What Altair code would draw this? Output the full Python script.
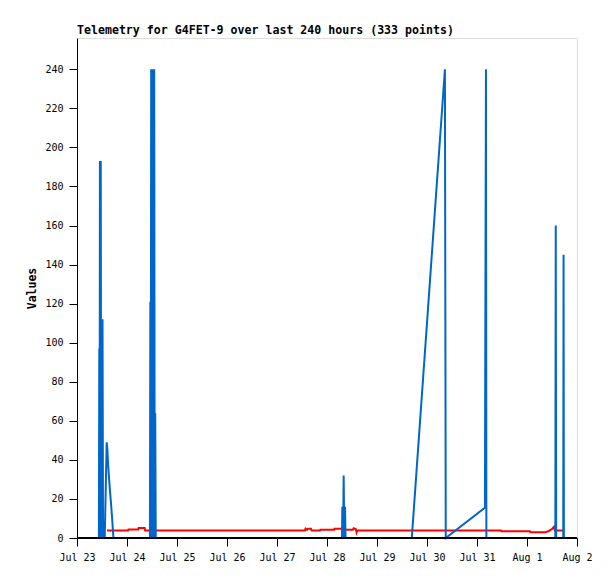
import altair as alt
import pandas as pd

# hours since Jul 23 00:00 (UTC) and values
blue_hours = [10.5, 10.7, 10.85, 11.0, 11.2, 11.4, 11.6, 11.8, 12.0, 12.25, 12.5, 12.7, 12.9, 13.1, 13.3,
              14.25, 14.6, 14.9, 15.35, 15.85, 16.3, 16.8, 17.3, 17.5,
              35.0, 35.2, 35.4, 35.6, 35.85, 36.1, 36.35, 36.6, 36.8, 37.05, 37.3, 37.55, 37.8,
              127.2, 127.35, 127.7, 128.0, 128.3, 128.65, 128.9,
              160.7, 176.6, 177.0, 195.8, 196.3, 196.5,
              229.6, 229.8, 230.0, 233.4, 233.55, 233.7]
blue_vals = [0, 97, 0, 193, 0, 193, 0, 112, 0, 112, 0, 8, 0, 8, 0,
             49, 45, 38, 31, 24, 18, 11, 3, 0,
             0, 121, 0, 240, 0, 240, 0, 240, 0, 240, 0, 64, 0,
             0, 16, 0, 32, 0, 16, 0,
             0, 240, 0, 15.5, 240, 0,
             0, 160, 0, 0, 145, 0]

red_hours = [14.4, 24.5, 24.7, 29.4, 29.6, 32.5, 32.7,
             109.4, 109.7, 110.4, 110.9, 112.3, 112.6, 116.6, 116.8, 123.4, 123.6, 127.8, 128.0,
             132.4, 132.8, 133.8, 134.2, 134.5,
             203.5, 203.7, 217.4, 217.6, 224.6, 226.5, 228.0, 229.0, 229.3, 233.3]
red_vals = [3.9, 3.9, 4.4, 4.4, 5.1, 5.1, 3.9,
            3.9, 4.8, 4.2, 4.8, 4.8, 3.9, 3.9, 4.2, 4.2, 4.7, 4.7, 4.2,
            4.2, 5.0, 4.6, 2.9, 3.9,
            3.9, 3.4, 3.4, 2.9, 2.9, 3.6, 4.6, 5.8, 3.9, 3.9]

start = pd.Timestamp("2023-07-23T00:00:00Z")
end = pd.Timestamp("2023-08-02T00:00:00Z")

def to_iso(hours):
    return [(start + pd.Timedelta(hours=h)).strftime("%Y-%m-%dT%H:%M:%SZ") for h in hours]

blue = pd.DataFrame({"t": to_iso(blue_hours), "v": blue_vals})
red = pd.DataFrame({"t": to_iso(red_hours), "v": red_vals})
zero = pd.DataFrame({"t": [start.strftime("%Y-%m-%dT%H:%M:%SZ"), end.strftime("%Y-%m-%dT%H:%M:%SZ")], "v": [0, 0]})

FONT = "DejaVu Sans Mono"
xscale = alt.Scale(type="utc", domain=[start.strftime("%Y-%m-%dT%H:%M:%SZ"), end.strftime("%Y-%m-%dT%H:%M:%SZ")], nice=False)
yscale = alt.Scale(domain=[0, 256], nice=False, zero=True)

xaxis = alt.Axis(title=None, format="%b %-d", tickCount={"interval": "day", "step": 1}, grid=False,
                 tickSize=8, tickColor="black", domainColor="black", labelColor="black",
                 labelFont=FONT, labelFontSize=10, labelPadding=6, labelFlush=False, labelOverlap=False)
yaxis = alt.Axis(title="Values", values=list(range(0, 241, 20)), grid=False,
                 tickSize=8, tickColor="black", domainColor="black", labelColor="black",
                 labelFont=FONT, labelFontSize=10, labelPadding=6,
                 titleFont=FONT, titleFontSize=11.5, titleFontWeight="bold", titleColor="black",
                 titleX=-45, titleY=250, titleAlign="center", titleBaseline="middle", titleAngle=270)

x = alt.X("t:T", scale=xscale, axis=xaxis)
y = alt.Y("v:Q", scale=yscale, axis=yaxis)

red_line = alt.Chart(red).mark_line(color="#FF0000", strokeWidth=2, interpolate="linear").encode(x=x, y=y)
blue_line = alt.Chart(blue).mark_line(color="#0066CC", strokeWidth=2, interpolate="linear").encode(x=x, y=y)
zero_line = alt.Chart(zero).mark_line(color="black", strokeWidth=2).encode(x=x, y=y)

chart = alt.layer(red_line, blue_line, zero_line).properties(
    width=500, height=500,
    title=alt.TitleParams("Telemetry for G4FET-9 over last 240 hours (333 points)", anchor="start",
                          font=FONT, fontSize=11.6, fontWeight="bold", color="black",
                          baseline="alphabetic", offset=-8, frame="group"),
    autosize=alt.AutoSizeParams(type="none"),
    padding={"left": 69, "top": 30, "right": 30, "bottom": 40},
).configure_view(stroke="#333333", strokeWidth=1).configure(background="white")

chart.save("out.html", embed_options={"renderer": "svg", "actions": False})
